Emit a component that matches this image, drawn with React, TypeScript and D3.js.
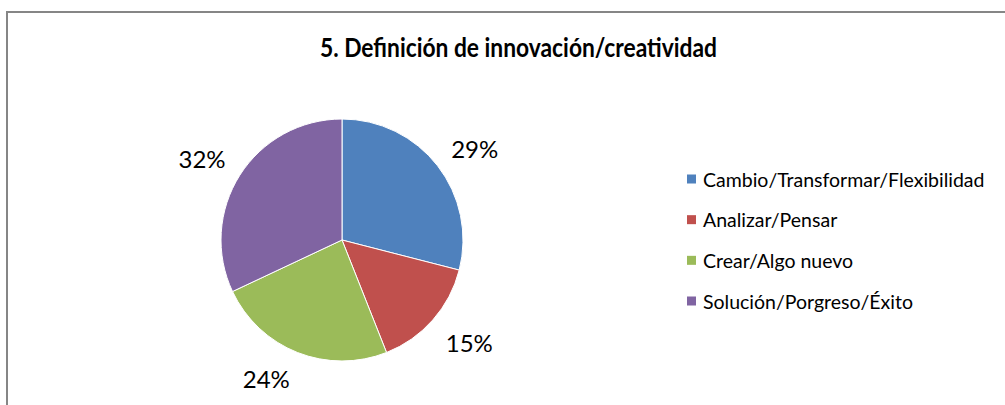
import React from "react";
import * as d3 from "d3";

const title = "5. Definición de innovación/creatividad";
const categories = [
  "Cambio/Transformar/Flexibilidad",
  "Analizar/Pensar",
  "Crear/Algo nuevo",
  "Solución/Porgreso/Éxito",
];
const values = [29, 15, 24, 32];
const colors = ["#4F81BD", "#C0504D", "#9BBB59", "#8064A2"];

const W = 1005;
const H = 405;
const cx = 342;
const cy = 240;
const R = 121;
const FONT = "Lato, 'Open Sans', sans-serif";

export default function App() {
  const pie = d3.pie<number>().sort(null).value((d) => d);
  const arcs = pie(values);
  const arcGen = d3.arc<d3.PieArcDatum<number>>().innerRadius(0).outerRadius(R);
  const total = d3.sum(values);
  const fmt = d3.format(".0%");

  const labelW = 52;
  const labelH = 22;
  const gap = 14;

  const legendY = d3
    .scalePoint<number>()
    .domain(d3.range(categories.length))
    .range([179, 301]);

  return (
    <svg
      width={W}
      height={H}
      style={{ position: "absolute", left: 0, top: 0, background: "#fff" }}
    >
      <rect x={7} y={12} width={1200} height={600} fill="#fff" stroke="#868686" strokeWidth={2} />
      <text
        x={518.5}
        y={57}
        textAnchor="middle"
        fontFamily={FONT}
        fontWeight="bold"
        fontSize={26}
        textLength={397}
        lengthAdjust="spacingAndGlyphs"
        fill="#000"
      >
        {title}
      </text>
      <g transform={`translate(${cx},${cy})`}>
        {arcs.map((a, i) => (
          <path key={i} d={arcGen(a) || ""} fill={colors[i]} stroke="#fff" strokeWidth={1} />
        ))}
        {arcs.map((a, i) => {
          const mid = (a.startAngle + a.endAngle) / 2;
          const dx = Math.sin(mid);
          const dy = -Math.cos(mid);
          const px = (R + gap) * dx;
          const py = (R + gap) * dy;
          const lx = px + Math.sign(dx) * labelW / 2;
          const ly = py + Math.sign(dy) * labelH / 2 + 2;
          return (
            <text
              key={"l" + i}
              x={lx}
              y={ly}
              textAnchor="middle"
              dominantBaseline="central"
              fontFamily={FONT}
              fontSize={24}
              fill="#000"
            >
              {fmt(a.data / total)}
            </text>
          );
        })}
      </g>
      {categories.map((c, i) => (
        <g key={c} transform={`translate(687,${legendY(i)})`}>
          <rect x={0} y={-4.5} width={9} height={9} fill={colors[i]} />
          <text
            x={16}
            y={0}
            dominantBaseline="central"
            fontFamily={FONT}
            fontSize={19.5}
            fill="#000"
          >
            {c}
          </text>
        </g>
      ))}
    </svg>
  );
}
